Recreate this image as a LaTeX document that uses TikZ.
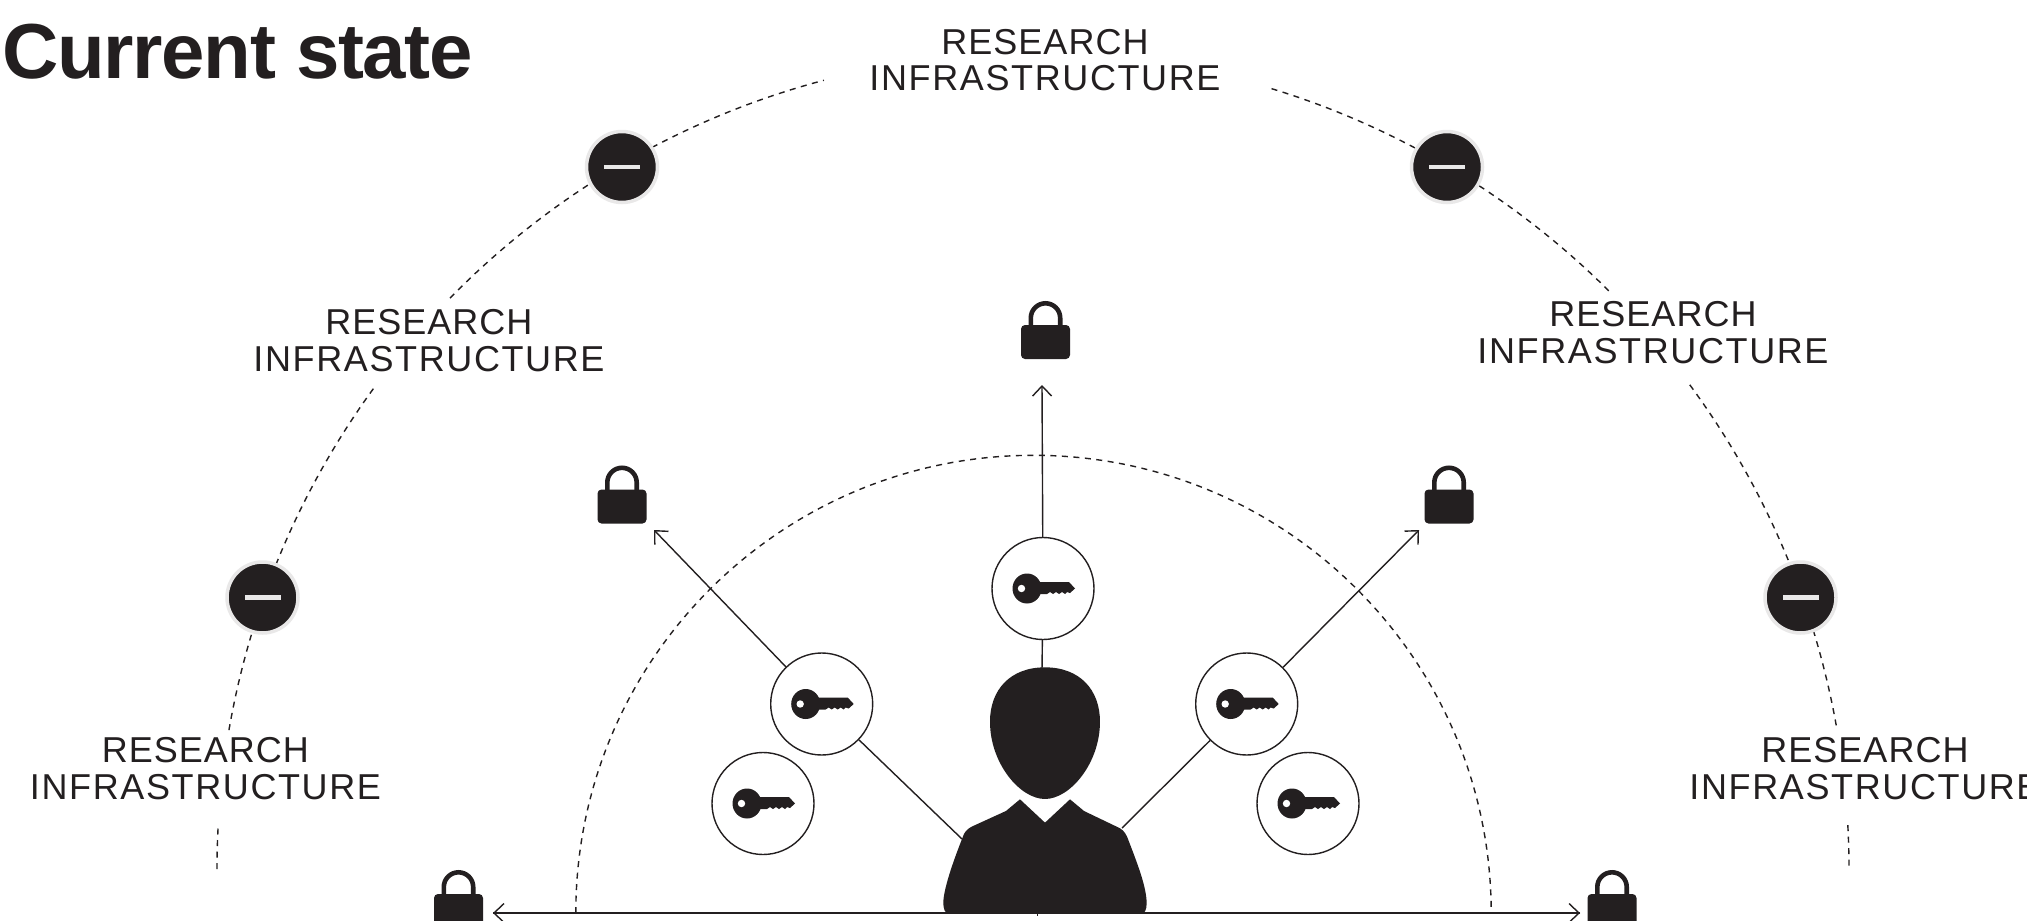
\documentclass[tikz,border=0pt]{standalone}
\usepackage{fontspec}
\setmainfont{Liberation Sans}
\newfontfamily\labelfont[LetterSpace=2.8]{Liberation Sans}
\newfontfamily\wlabelfont[LetterSpace=4.5]{Liberation Sans}
\newfontfamily\titlefont[LetterSpace=-1.7]{Liberation Sans}
\newcommand{\ralines}{{\labelfont RESEARCH}\\INFRASTRUCTURE}
\usetikzlibrary{arrows.meta}
\definecolor{ink}{HTML}{231F20}
\definecolor{ringgray}{HTML}{E9E8E8}
\tikzset{
  every picture/.style={x=1pt,y=-1pt},
  thinline/.style={draw=ink,line width=1.4pt},
  dashline/.style={draw=ink,line width=1.4pt,dash pattern=on 6pt off 5.5pt},
  arrowline/.style={thinline,-{Straight Barb[length=10pt,width=19pt,line width=1.4pt]}},
  keyring/.style={circle,draw=ink,line width=1.4pt,fill=white,minimum size=102pt,inner sep=0pt},
  minusdisc/.style={circle,draw=ringgray,line width=3.5pt,fill=ink,minimum size=71pt,inner sep=0pt},
  ralabel/.style={font=\wlabelfont\fontsize{36pt}{36.5pt}\selectfont,text=ink,align=center,inner sep=0pt},
  keyicon/.pic={
    \fill[ink] (-7,-6.5) -- (26,-6.5) -- (32,0) -- (27,4.5) -- (24,3.5) -- (22,5.5) -- (19,3.5) -- (16,5.5) -- (13,3.5) -- (10,5.5) -- (7,3.5) -- (4,5.5) -- (-4,5.5) -- cycle;
    \fill[ink] (-16,0) ellipse[x radius=14.5,y radius=15];
    \fill[white] (-21.5,0) circle[radius=3.7];
  },
  lockicon/.pic={
    \draw[ink,line width=4.6pt] (-14.7,-30) -- (-14.7,-41) arc[start angle=180,end angle=360,radius=14.7] -- (14.7,-30);
    \fill[ink,rounded corners=4pt] (-24.5,-34) rectangle (24.5,0);
  },
  minusicon/.pic={\fill[ringgray] (-18,-2.4) rectangle (18,2.4);}
}
\begin{document}
\begin{tikzpicture}
\clip (0,0) rectangle (2027,921);
\useasboundingbox (0,0) rectangle (2027,921);
\fill[white] (0,0) rectangle (2027,921);
\coordinate (outerc) at (1033,869);
\coordinate (innerc) at (1033.5,913);
% outer dashed ring
\foreach \a/\b in {180/176.8,170.2/143.9,135.6/104.85,73/45.06,36.4/9.8,3.08/0}{
  \draw[dashline] ([shift={(-\a:816)}]outerc) arc[start angle=-\a,end angle=-\b,radius=816];
}
% inner dashed ring
\draw[dashline] ([shift={(-180:457.7)}]innerc) arc[start angle=-180,end angle=0,radius=457.7];
% key nodes
\node[keyring] (ktop) at (1043,588.5) {};
\node[keyring] (kleft) at (821.7,704) {};
\node[keyring] (kright) at (1246.7,704) {};
\node[keyring] (kll) at (763,803.5) {};
\node[keyring] (krr) at (1308,803.5) {};
% person
\coordinate (neck) at (1042,670);
\coordinate (lshoulder) at (962,839);
\coordinate (rshoulder) at (1122,828);
\coordinate (tiptop) at (1042,385);
\coordinate (tipleft) at (654,530);
\coordinate (tipright) at (1419,530);
\coordinate (hl) at (493,913);
\coordinate (hr) at (1580,913);
\coordinate (tickb) at (1037,916);
\coordinate (tickt) at (1037,912);
\draw[arrowline] (ktop) -- (tiptop);
\draw[thinline] (ktop) -- (neck);
\draw[arrowline] (kleft) -- (tipleft);
\draw[thinline] (kleft) -- (lshoulder);
\draw[arrowline] (kright) -- (tipright);
\draw[thinline] (kright) -- (rshoulder);
\draw[arrowline] (hl) -- (hr);
\draw[arrowline] (hr) -- (hl);
\draw[draw=ink,line width=1pt] (tickt) -- (tickb);
\begin{scope}[shift={(900,640)},x=0.3333pt,y=-0.3333pt]
\fill[ink] (435,82) .. controls (540,82) and (600,150) .. (600,245) .. controls (600,370) and (510,477) .. (435,477) .. controls (360,477) and (270,370) .. (270,245) .. controls (270,150) and (330,82) .. (435,82) -- cycle;
\fill[ink] (360,478) -- (435,548) -- (510,478) -- (552,513) -- (650,560) .. controls (665,566) and (675,575) .. (682,592) .. controls (710,665) and (740,740) .. (740,790) .. controls (740,810) and (735,822) .. (720,822) -- (150,822) .. controls (135,822) and (130,810) .. (130,785) .. controls (132,740) and (165,650) .. (188,592) .. controls (192,578) and (200,568) .. (215,560) -- (318,513) -- cycle;
\end{scope}
% icons
\foreach \n in {ktop,kleft,kright,kll,krr}{ \path (\n) pic {keyicon}; }
\path (1045.5,359) pic {lockicon};
\path (622,523.5) pic {lockicon};
\path (1449,523.5) pic {lockicon};
\path (458.5,928) pic {lockicon};
\path (1612,928) pic {lockicon};
% minus discs
\node[minusdisc] (m1) at (622,167) {};
\node[minusdisc] (m2) at (1447,167) {};
\node[minusdisc] (m3) at (262.5,597.5) {};
\node[minusdisc] (m4) at (1800.5,597.5) {};
\foreach \n in {m1,m2,m3,m4}{ \path (\n) pic {minusicon}; }
% labels
\node[ralabel] (ltop) at (1045,60) {\ralines};
\node[ralabel] (lleft) at (429,340.5) {\ralines};
\node[ralabel] (lright) at (1653,332.5) {\ralines};
\node[ralabel] (lbl) at (205.5,768.5) {\ralines};
\node[ralabel] (lbr) at (1865,768.5) {\ralines};
\node[anchor=base west,inner sep=0pt,text=ink,font=\titlefont\bfseries\fontsize{78pt}{80pt}\selectfont] (title) at (2,78) {Current state};
\end{tikzpicture}
\end{document}
